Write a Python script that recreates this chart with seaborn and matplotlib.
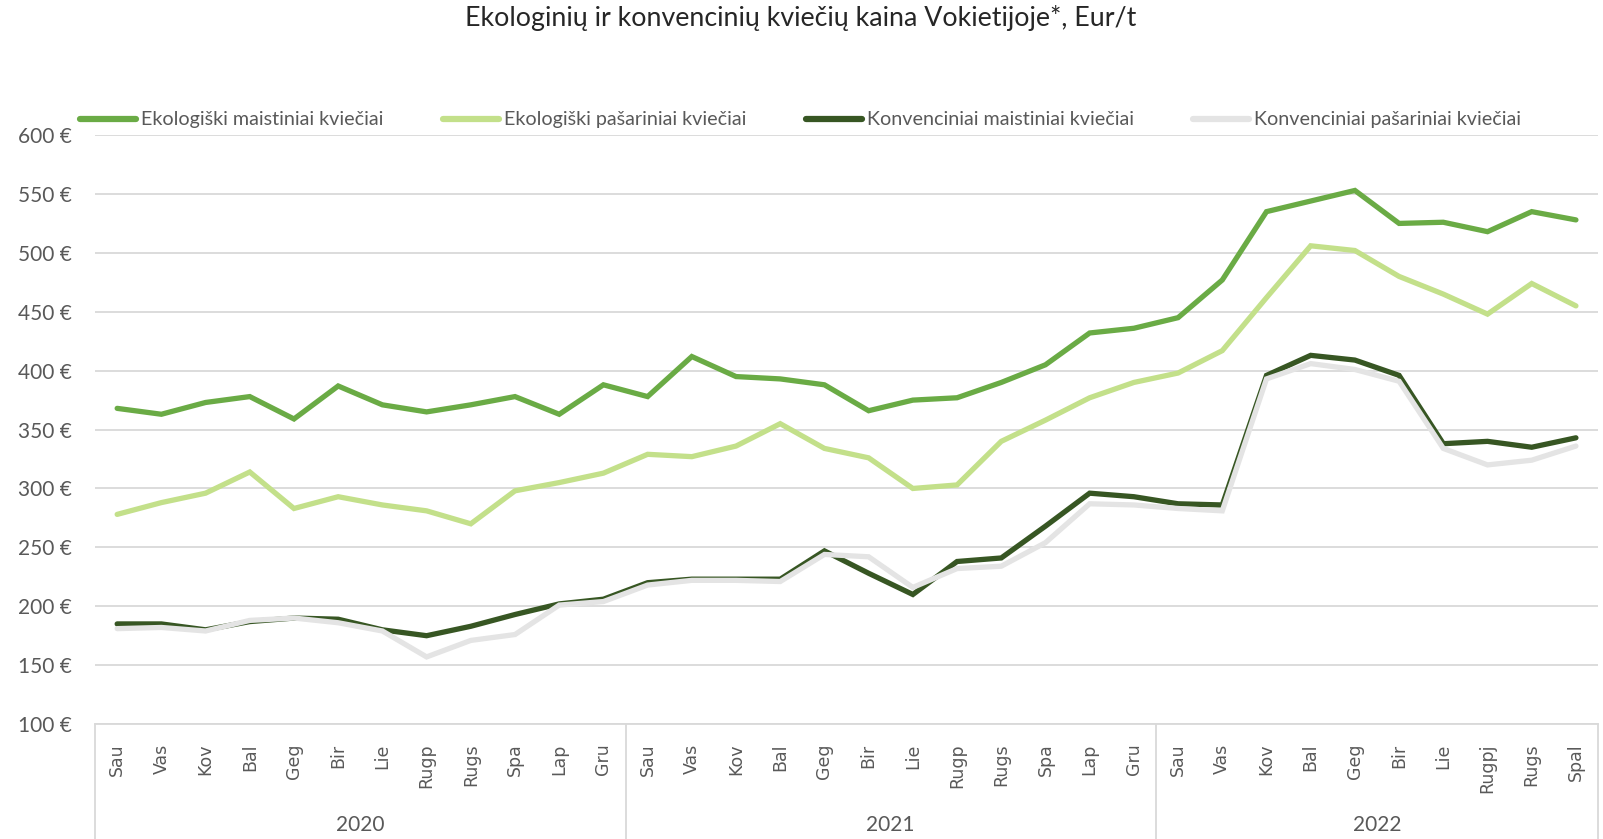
import numpy as np
import pandas as pd
import seaborn as sns
import matplotlib.pyplot as plt
import matplotlib.transforms as mtransforms
from matplotlib.lines import Line2D

# data
months = ["Sau", "Vas", "Kov", "Bal", "Geg", "Bir", "Lie", "Rugp", "Rugs", "Spa", "Lap", "Gru",
          "Sau", "Vas", "Kov", "Bal", "Geg", "Bir", "Lie", "Rugp", "Rugs", "Spa", "Lap", "Gru",
          "Sau", "Vas", "Kov", "Bal", "Geg", "Bir", "Lie", "Rugpj", "Rugs", "Spal"]
years = ["2020", "2021", "2022"]
year_counts = [12, 12, 10]

eko_maist = [368, 363, 373, 378, 359, 387, 371, 365, 371, 378, 363, 388,
             378, 412, 395, 393, 388, 366, 375, 377, 390, 405, 432, 436,
             445, 477, 535, 544, 553, 525, 526, 518, 535, 528]
eko_pas = [278, 288, 296, 314, 283, 293, 286, 281, 270, 298, 305, 313,
           329, 327, 336, 355, 334, 326, 300, 303, 340, 358, 377, 390,
           398, 417, 462, 506, 502, 480, 465, 448, 474, 455]
konv_maist = [185, 185, 180, 187, 190, 189, 180, 175, 183, 193, 202, 206,
              220, 223, 223, 223, 247, 228, 210, 238, 241, 268, 296, 293,
              287, 286, 396, 413, 409, 396, 338, 340, 335, 343]
konv_pas = [181, 182, 179, 188, 190, 186, 179, 157, 171, 176, 201, 204,
            218, 222, 222, 221, 244, 242, 216, 232, 234, 254, 287, 286,
            283, 281, 393, 406, 401, 391, 334, 320, 324, 336]

series_names = ["Ekologiški maistiniai kviečiai", "Ekologiški pašariniai kviečiai",
                "Konvenciniai maistiniai kviečiai", "Konvenciniai pašariniai kviečiai"]
colors = ["#6AAB45", "#C3E08A", "#375623", "#E4E4E4"]

n = len(months)
df = pd.DataFrame({
    "x": list(range(n)) * 4,
    "value": eko_maist + eko_pas + konv_maist + konv_pas,
    "series": sum([[s] * n for s in series_names], []),
})

sns.set_style("white")
plt.rcParams["font.family"] = ["Lato", "DejaVu Sans"]

fig = plt.figure(figsize=(16.03, 8.39), dpi=100)
ax = fig.add_axes([0.0593, 0.137, 0.9376, 0.702])

sns.lineplot(data=df, x="x", y="value", hue="series", hue_order=series_names,
             palette=colors, linewidth=3.8, ax=ax, legend=False,
             solid_capstyle="round", solid_joinstyle="miter")

ax.set_xlim(-0.5, n - 0.5)
ax.set_ylim(100, 600)
ax.set_yticks(range(100, 601, 50))
ax.set_yticklabels([f"{v} €" for v in range(100, 601, 50)], fontsize=15, color="#595959")
ax.yaxis.grid(True, color="#D9D9D9", linewidth=1.3)
ax.set_axisbelow(True)
ax.tick_params(axis="y", length=0, pad=17)

ax.set_xticks(range(n))
ax.set_xticklabels(months, rotation=90, fontsize=12.5, color="#595959", family="DejaVu Sans")
ax.tick_params(axis="x", length=0, pad=14)
ax.set_xlabel("")
ax.set_ylabel("")
for side in ["top", "right", "left"]:
    ax.spines[side].set_visible(False)
ax.spines["bottom"].set_color("#D9D9D9")
ax.spines["bottom"].set_linewidth(1.3)

# year grouping below the month labels
trans = mtransforms.blended_transform_factory(ax.transData, ax.transAxes)
bottom = -0.137 / 0.702
edges = np.cumsum([0] + year_counts) - 0.5
for e in edges:
    ax.plot([e, e], [0, bottom], transform=trans, color="#D9D9D9", lw=1.3, clip_on=False)
for i, y in enumerate(years):
    ax.text((edges[i] + edges[i + 1]) / 2, -0.172, y, transform=trans,
            ha="center", va="center", fontsize=15, color="#595959")

handles = [Line2D([0], [0], color=c, lw=4.5, solid_capstyle="round") for c in colors]
leg = fig.legend(handles, series_names, loc="center left", bbox_to_anchor=(0.039, 0.857),
                 ncol=4, frameon=False, fontsize=14.2, handlelength=2.85,
                 handletextpad=0.25, columnspacing=3.0)
for t in leg.get_texts():
    t.set_color("#595959")

fig.text(0.4995, 0.978, "Ekologinių ir konvencinių kviečių kaina Vokietijoje*, Eur/t",
         ha="center", va="center", fontsize=19.3, color="#262626")

fig.savefig("out.png", dpi=100)
